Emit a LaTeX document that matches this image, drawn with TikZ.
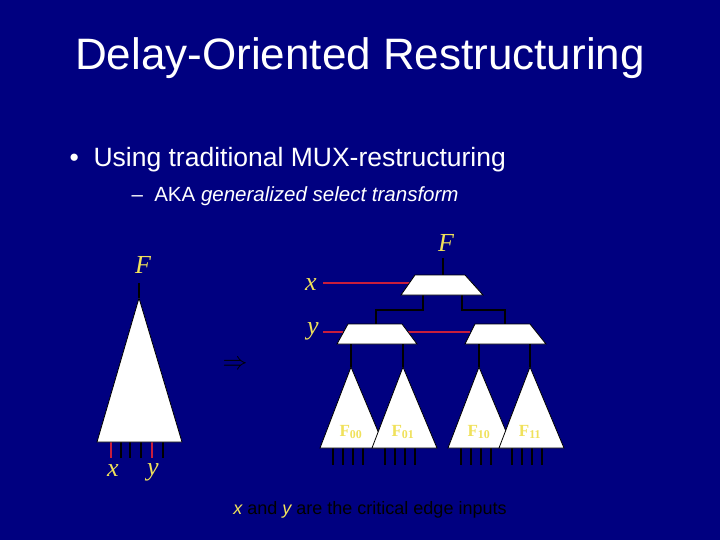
\documentclass[tikz,border=0pt]{standalone}
\usepackage{fontspec}
\setmainfont{Liberation Sans}
\newfontfamily\serif{Liberation Serif}
\definecolor{slidebg}{RGB}{0,0,128}
\definecolor{lblyellow}{RGB}{240,225,90}
\definecolor{wirered}{RGB}{200,30,60}
\begin{document}
\begin{tikzpicture}[x=1pt,y=-1pt,
  blk/.style={fill=white,draw=black,line width=0.8pt},
  wire/.style={black,line width=1.2pt},
  sel/.style={wirered,line width=1.5pt},
  lbl/.style={text=lblyellow,font=\serif\itshape\fontsize{26}{26}\selectfont,inner sep=0pt},
  sub/.style={text=lblyellow,font=\serif\bfseries\fontsize{17}{17}\selectfont,inner sep=0pt}]
\fill[slidebg] (0,0) rectangle (720,540);
\useasboundingbox (0,0) rectangle (720,540);
% Text
\node (title) [white,font=\fontsize{44}{48}\selectfont] at (360,58) {Delay-Oriented Restructuring};
\node (bullet) [white,anchor=west,font=\fontsize{26.5}{30}\selectfont] at (66,160) {\textbullet\ \ Using traditional MUX-restructuring};
\node (sub) [white,anchor=west,font=\fontsize{20.5}{24}\selectfont] at (128,196) {--\ \ AKA \textit{generalized select transform}};
\node (note) [black,font=\fontsize{18}{20}\selectfont] at (370,510) {\textit{\textcolor{lblyellow}{x}} and \textit{\textcolor{lblyellow}{y}} are the critical edge inputs};
% Left cone
\node (Fl) [lbl] at (143,265) {F};
\coordinate (apexl) at (139,298);
\draw[wire] (apexl) -- (139,283);
\foreach \t in {121,130,141,163} \draw[wire] (\t,442) -- (\t,458);
\foreach \t in {111,152} \draw[sel] (\t,442) -- (\t,458);
\draw[blk] (apexl) -- (182,442) -- (97,442) -- cycle;
\node (xl) [lbl] at (113,471) {x};
\node (yl) [lbl] at (153,472) {y};
\node (arr) [black,font=\fontsize{26}{26}\selectfont] at (235,365) {$\Rightarrow$};
% Right: mux tree
\node (Fr) [lbl] at (446,243) {F};
\node (xr) [lbl] at (311,285) {x};
\node (yr) [lbl] at (313,331) {y};
\coordinate (xin) at (323,283);
\coordinate (yin) at (323,332);
\draw[wire] (443,258) -- (443,275);
\draw[wire] (423,295) -- (423,310) -| (376,324);
\draw[wire] (462,295) -- (462,310) -| (505,324);
\draw[sel] (xin) -- (412,283);
\draw[sel] (yin) -- (343,332);
\draw[sel] (408,332) -- (470,332);
\draw[blk] (415,275) -- (465,275) -- (483,295) -- (401,295) -- cycle;
\draw[blk] (348,324) -- (402,324) -- (417,344) -- (337,344) -- cycle;
\draw[blk] (475,324) -- (530,324) -- (546,344) -- (465,344) -- cycle;
\foreach \a/\n in {351/00,403/01,479/10,530/11}{
  \draw[wire] (\a,344) -- (\a,367);
  \foreach \d in {-18,-8,2,12} \draw[wire] (\a+\d,448) -- (\a+\d,465);
  \draw[blk] (\a,367) -- (\a+34,448) -- (\a-31,448) -- cycle;
  \node (F\n) [sub] at (\a,432) {F\textsubscript{\n}};
}
\end{tikzpicture}
\end{document}
